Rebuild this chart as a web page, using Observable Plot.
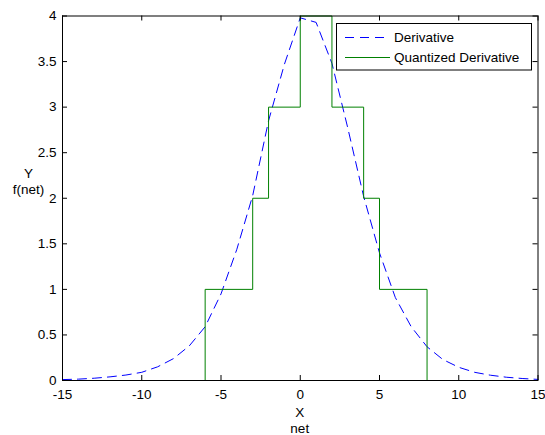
<!DOCTYPE html>
<html>
<head>
<meta charset="utf-8">
<script src="https://cdn.jsdelivr.net/npm/d3@7"></script>
<script src="https://cdn.jsdelivr.net/npm/@observablehq/plot@0.6"></script>
<style>
  html, body { margin: 0; padding: 0; background: white; }
</style>
</head>
<body>
<div id="chart"></div>
<script>
// Derivative curve samples
const derivX = [-15,-14,-13,-12,-11,-10,-9,-8,-7,-6,-5,-4,-3,-2,-1,0,1,2,3,4,5,6,7,8,9,10,11,12,13,14,15];
const derivY = [0.01,0.015,0.025,0.04,0.06,0.09,0.15,0.24,0.38,0.59,0.95,1.44,2.03,2.85,3.47,3.98,3.93,3.48,2.77,2.02,1.40,0.91,0.59,0.37,0.23,0.145,0.09,0.058,0.036,0.022,0.012];

// Quantized derivative: step edges and levels
const quantEdges = [-6,-3,-2,0,2,4,5,8];
const quantLevels = [1,2,3,4,3,2,1];

// Axis ticks
const xTicks = [-15,-10,-5,0,5,10,15];
const yTicks = [0,0.5,1,1.5,2,2.5,3,3.5,4];

const seriesNames = ["Derivative", "Quantized Derivative"];
const xLabelLines = ["X", "net"];
const yLabelLines = ["Y", "f(net)"];

const W = 545, H = 435;
const mL = 62, mR = 7.5, mT = 15.5, mB = 55;
const innerW = W - mL - mR, innerH = H - mT - mB;
const tickLen = 5;
const blue = "#0000ff", green = "#008000";
const dash = "9,6";
const fs = 13.5;

const deriv = derivX.map((x, i) => ({x, y: derivY[i]}));
const steps = [{x: quantEdges[0], y: 0}]
  .concat(quantLevels.map((v, i) => ({x: quantEdges[i], y: v})))
  .concat([{x: quantEdges[quantEdges.length - 1], y: 0}]);

const chart = Plot.plot({
  width: W, height: H,
  marginLeft: mL, marginRight: mR, marginTop: mT, marginBottom: mB,
  style: {fontFamily: "'Liberation Sans', Arial, sans-serif", fontSize: fs + "px", background: "white", color: "black"},
  x: {domain: [-15, 15]},
  y: {domain: [0, 4]},
  marks: [
    Plot.line(deriv, {x: "x", y: "y", stroke: blue, strokeWidth: 1, strokeDasharray: dash}),
    Plot.line(steps, {x: "x", y: "y", curve: "step-after", stroke: green, strokeWidth: 1}),
    Plot.tickX(xTicks, {x: d => d, insetTop: innerH - tickLen, stroke: "black"}),
    Plot.tickX(xTicks, {x: d => d, insetBottom: innerH - tickLen, stroke: "black"}),
    Plot.tickY(yTicks, {y: d => d, insetRight: innerW - tickLen, stroke: "black"}),
    Plot.tickY(yTicks, {y: d => d, insetLeft: innerW - tickLen, stroke: "black"}),
    Plot.axisX({ticks: xTicks, tickSize: 0, tickPadding: 8.5, tickFormat: d => String(d), label: null}),
    Plot.axisY({ticks: yTicks, tickSize: 0, tickPadding: 6, tickFormat: d => String(d), label: null}),
    Plot.frame({stroke: "black"})
  ]
});

document.getElementById("chart").appendChild(chart);

const svg = d3.select(chart);
const font = "'Liberation Sans', Arial, sans-serif";

// axis labels
const xl = svg.append("g").attr("font-family", font).attr("font-size", fs).attr("text-anchor", "middle");
xl.append("text").attr("x", mL + innerW / 2).attr("y", 416.5).text(xLabelLines[0]);
xl.append("text").attr("x", mL + innerW / 2).attr("y", 433).text(xLabelLines[1]);
const yl = svg.append("g").attr("font-family", font).attr("font-size", fs).attr("text-anchor", "middle");
yl.append("text").attr("x", 28.5).attr("y", 177.5).text(yLabelLines[0]);
yl.append("text").attr("x", 28.5).attr("y", 194).text(yLabelLines[1]);

// legend
const lg = svg.append("g").attr("font-family", font).attr("font-size", fs).attr("text-anchor", "start");
lg.append("rect").attr("x", 336.5).attr("y", 23.5).attr("width", 195).attr("height", 46.5)
  .style("fill", "white").style("stroke", "black");
lg.append("path").attr("d", "M345,37.5H390")
  .style("fill", "none").style("stroke", blue).style("stroke-width", "1px").style("stroke-dasharray", dash);
lg.append("path").attr("d", "M345,57.5H390")
  .style("fill", "none").style("stroke", green).style("stroke-width", "1px");
lg.append("text").attr("x", 394).attr("y", 37.5).attr("dy", "0.35em").text(seriesNames[0]);
lg.append("text").attr("x", 394).attr("y", 57.5).attr("dy", "0.35em").text(seriesNames[1]);
</script>
</body>
</html>
